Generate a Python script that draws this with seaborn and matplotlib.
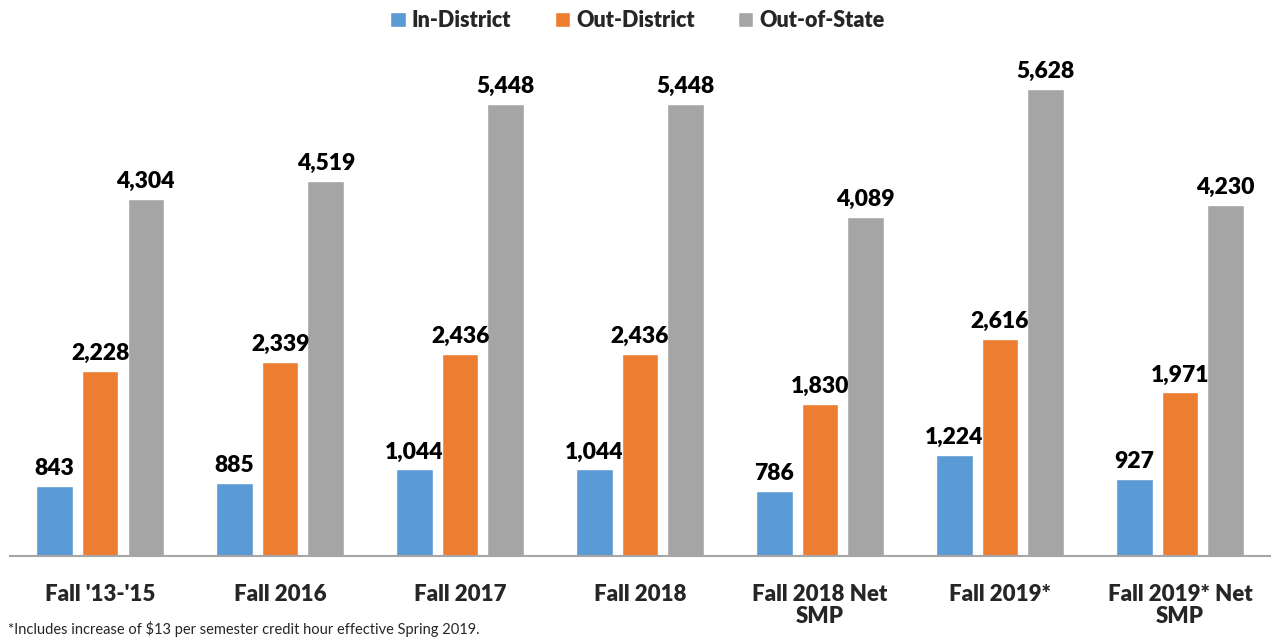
import matplotlib
matplotlib.use("Agg")
import matplotlib.pyplot as plt
import seaborn as sns
import pandas as pd

categories = ["Fall '13-'15", "Fall 2016", "Fall 2017", "Fall 2018",
              "Fall 2018 Net\nSMP", "Fall 2019*", "Fall 2019* Net\nSMP"]
in_district = [843, 885, 1044, 1044, 786, 1224, 927]
out_district = [2228, 2339, 2436, 2436, 1830, 2616, 1971]
out_of_state = [4304, 4519, 5448, 5448, 4089, 5628, 4230]
series = ["In-District", "Out-District", "Out-of-State"]
colors = ["#5B9BD5", "#ED7D31", "#A5A5A5"]

rows = []
for s, vals in zip(series, [in_district, out_district, out_of_state]):
    for c, v in zip(categories, vals):
        rows.append({"cat": c, "series": s, "value": v})
df = pd.DataFrame(rows)

sns.set_style("white")
plt.rcParams['font.family'] = ['Lato', 'DejaVu Sans']

fig = plt.figure(figsize=(12.75, 6.43), dpi=100)
ax = fig.add_axes([0.008, 0.135, 0.988, 0.775])
sns.barplot(data=df, x="cat", y="value", hue="series", order=categories,
            hue_order=series, palette=colors, width=0.76, gap=0.2,
            saturation=1, ax=ax, legend=True)

for cont in ax.containers:
    ax.bar_label(cont, labels=[f"{v:,.0f}" for v in cont.datavalues],
                 padding=5, fontsize=16.5, fontweight='heavy', color='black')

ax.set_ylim(0, 6000)
ax.set_xlim(-0.5, 6.5)
ax.set_xlabel("")
ax.set_ylabel("")
ax.set_yticks([])
for sp in ["top", "right", "left"]:
    ax.spines[sp].set_visible(False)
ax.spines["bottom"].set_color("#A6A6A6")
ax.spines["bottom"].set_linewidth(1.5)
ax.tick_params(axis='x', length=0, pad=20)
for t in ax.get_xticklabels():
    t.set_fontsize(16)
    t.set_fontweight('heavy')
    t.set_linespacing(1.05)

handles, labels = ax.get_legend_handles_labels()
ax.get_legend().remove()
fig.legend(handles, labels, loc='center', bbox_to_anchor=(0.5, 0.968), ncol=3, frameon=False,
           prop={'size': 15.5, 'weight': 'heavy'}, handlelength=0.7, handleheight=0.7,
           handletextpad=0.3, columnspacing=2.0)

fig.text(0.006, 0.01, "*Includes increase of $13 per semester credit hour effective Spring 2019.",
         fontsize=10.5, ha='left', va='bottom')

fig.savefig("out.png", dpi=100)
